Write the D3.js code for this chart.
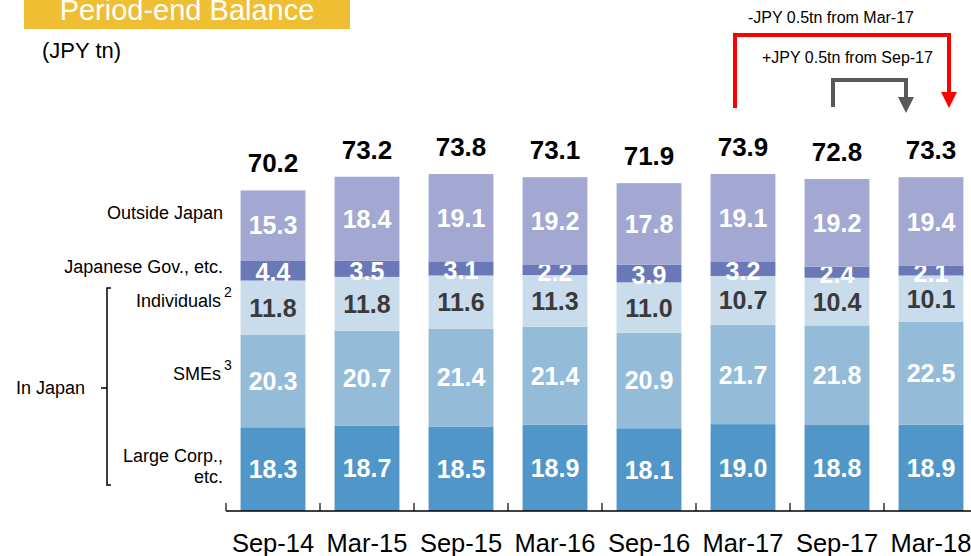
<!DOCTYPE html>
<html>
<head>
<meta charset="utf-8">
<script src="https://cdn.jsdelivr.net/npm/d3@7"></script>
<style>
  body { margin: 0; background: #fff; }
  svg { display: block; font-family: "Liberation Sans", Arial, sans-serif; }
</style>
</head>
<body>
<div id="chart"></div>
<script>
// period-end balance, stacked bars

var width = 971,
    height = 556;

var periods = ["Sep-14", "Mar-15", "Sep-15", "Mar-16", "Sep-16", "Mar-17", "Sep-17", "Mar-18"];

// series, bottom to top
var largeCorp = [18.3, 18.7, 18.5, 18.9, 18.1, 19.0, 18.8, 18.9];
var smes      = [20.3, 20.7, 21.4, 21.4, 20.9, 21.7, 21.8, 22.5];
var indiv     = [11.8, 11.8, 11.6, 11.3, 11.0, 10.7, 10.4, 10.1];
var govt      = [4.4, 3.5, 3.1, 2.2, 3.9, 3.2, 2.4, 2.1];
var outside   = [15.3, 18.4, 19.1, 19.2, 17.8, 19.1, 19.2, 19.4];
var totals    = [70.2, 73.2, 73.8, 73.1, 71.9, 73.9, 72.8, 73.3];

var seriesKeys = ["large", "smes", "indiv", "govt", "outside"];
var seriesColor = {
  large: "#5096c8",
  smes: "#94bcd9",
  indiv: "#c9dcec",
  govt: "#6a78b8",
  outside: "#a3a8d2"
};
var labelColor = {
  large: "#fff", smes: "#fff", indiv: "#3a3a3a", govt: "#fff", outside: "#fff"
};

var rows = periods.map(function(p, i) {
  return { period: p, large: largeCorp[i], smes: smes[i], indiv: indiv[i],
           govt: govt[i], outside: outside[i], total: totals[i] };
});

var baseY = 511;

var x = d3.scaleBand()
    .domain(periods)
    .range([226, 978])
    .padding(0);

var y = d3.scaleLinear()
    .domain([0, 70.2])
    .range([baseY, 190]);

var barW = x.bandwidth() * 0.69;

var svg = d3.select("#chart").append("svg")
    .attr("width", width)
    .attr("height", height);

// title box
svg.append("rect")
    .attr("x", 24).attr("y", 0)
    .attr("width", 326).attr("height", 29)
    .attr("fill", "#f0be32");
svg.append("text")
    .attr("x", 187).attr("y", 20)
    .attr("text-anchor", "middle")
    .attr("fill", "#fff")
    .style("font-size", "29px")
    .text("Period-end Balance");

svg.append("text")
    .attr("x", 42).attr("y", 58)
    .style("font-size", "22px")
    .text("(JPY tn)");

// stacks
var stack = d3.stack().keys(seriesKeys);
var layers = stack(rows);

var layer = svg.selectAll(".layer")
  .data(layers)
  .enter().append("g")
    .attr("class", "layer");

layer.selectAll("rect")
  .data(function(d) { return d; })
  .enter().append("rect")
    .attr("x", function(d) { return x(d.data.period) + (x.bandwidth() - barW) / 2; })
    .attr("y", function(d) { return y(d[1]); })
    .attr("width", barW)
    .attr("height", function(d) { return y(d[0]) - y(d[1]); })
    .attr("fill", function() { return seriesColor[d3.select(this.parentNode).datum().key]; });

layer.selectAll("text")
  .data(function(d) { return d.map(function(v) { v.key = d.key; return v; }); })
  .enter().append("text")
    .attr("x", function(d) { return x(d.data.period) + x.bandwidth() / 2; })
    .attr("y", function(d) {
      var mid = (y(d[0]) + y(d[1])) / 2;
      return mid + (d.key == "govt" ? 11 : 9);
    })
    .attr("text-anchor", "middle")
    .attr("fill", function(d) { return labelColor[d.key]; })
    .style("font-size", "25px")
    .style("font-weight", "bold")
    .text(function(d) { return d.data[d.key].toFixed(1); });

// totals
svg.selectAll(".total")
  .data(rows)
  .enter().append("text")
    .attr("class", "total")
    .attr("x", function(d) { return x(d.period) + x.bandwidth() / 2; })
    .attr("y", function(d) {
      var top = d.large + d.smes + d.indiv + d.govt + d.outside;
      return y(top) - 18;
    })
    .attr("text-anchor", "middle")
    .style("font-size", "26px")
    .style("font-weight", "bold")
    .text(function(d) { return d.total.toFixed(1); });

// axis line + ticks between bars
svg.append("line")
    .attr("x1", 226).attr("x2", 978)
    .attr("y1", baseY).attr("y2", baseY)
    .attr("stroke", "#000").attr("stroke-width", 1.5);

svg.selectAll(".tick")
  .data(periods)
  .enter().append("line")
    .attr("x1", function(d) { return x(d); })
    .attr("x2", function(d) { return x(d); })
    .attr("y1", baseY).attr("y2", baseY - 8)
    .attr("stroke", "#000").attr("stroke-width", 1.2);

svg.selectAll(".cat")
  .data(periods)
  .enter().append("text")
    .attr("x", function(d) { return x(d) + x.bandwidth() / 2; })
    .attr("y", 552)
    .attr("text-anchor", "middle")
    .style("font-size", "25.5px")
    .text(function(d) { return d; });

// left side labels
var sideLabels = [
  { t: "Outside Japan", y: 219 },
  { t: "Japanese Gov., etc.", y: 273 },
  { t: "Individuals", y: 307, sup: "2" },
  { t: "SMEs", y: 380, sup: "3" },
  { t: "Large Corp.,", y: 462 },
  { t: "etc.", y: 483 }
];
sideLabels.forEach(function(l) {
  svg.append("text")
      .attr("x", l.sup ? 221 : 223)
      .attr("y", l.y)
      .attr("text-anchor", "end")
      .style("font-size", "18px")
      .text(l.t);
  if (l.sup) {
    svg.append("text")
        .attr("x", 224).attr("y", l.y - 10)
        .style("font-size", "14px")
        .text(l.sup);
  }
});

svg.append("text")
    .attr("x", 16).attr("y", 394)
    .style("font-size", "18px")
    .text("In Japan");

// bracket
svg.append("path")
    .attr("d", "M111,288 L107,288 L107,485 L111,485 M107,388 L101,388")
    .attr("fill", "none")
    .attr("stroke", "#000")
    .attr("stroke-width", 1.5);

// change annotations
var cx = function(p) { return x(p) + x.bandwidth() / 2; };

function arrow(color, xs, xe, yTop, yStart, yTip, label, lx, ly) {
  svg.append("path")
      .attr("d", "M" + xs + "," + yStart + " L" + xs + "," + yTop + " L" + xe + "," + yTop + " L" + xe + "," + (yTip - 14))
      .attr("fill", "none")
      .attr("stroke", color)
      .attr("stroke-width", 4);
  svg.append("path")
      .attr("d", "M" + (xe - 8) + "," + (yTip - 16) + " L" + (xe + 8) + "," + (yTip - 16) + " L" + xe + "," + yTip + "Z")
      .attr("fill", color);
  svg.append("text")
      .attr("x", lx).attr("y", ly)
      .style("font-size", "16px")
      .text(label);
}

arrow("#ff0000", cx("Mar-17") - 8, cx("Mar-18") + 18, 35, 108, 108,
      "-JPY 0.5tn from Mar-17", 748, 23);
arrow("#595959", cx("Sep-17") - 4, cx("Mar-18") - 25, 80, 107, 113,
      "+JPY 0.5tn from Sep-17", 762, 63);
</script>
</body>
</html>
